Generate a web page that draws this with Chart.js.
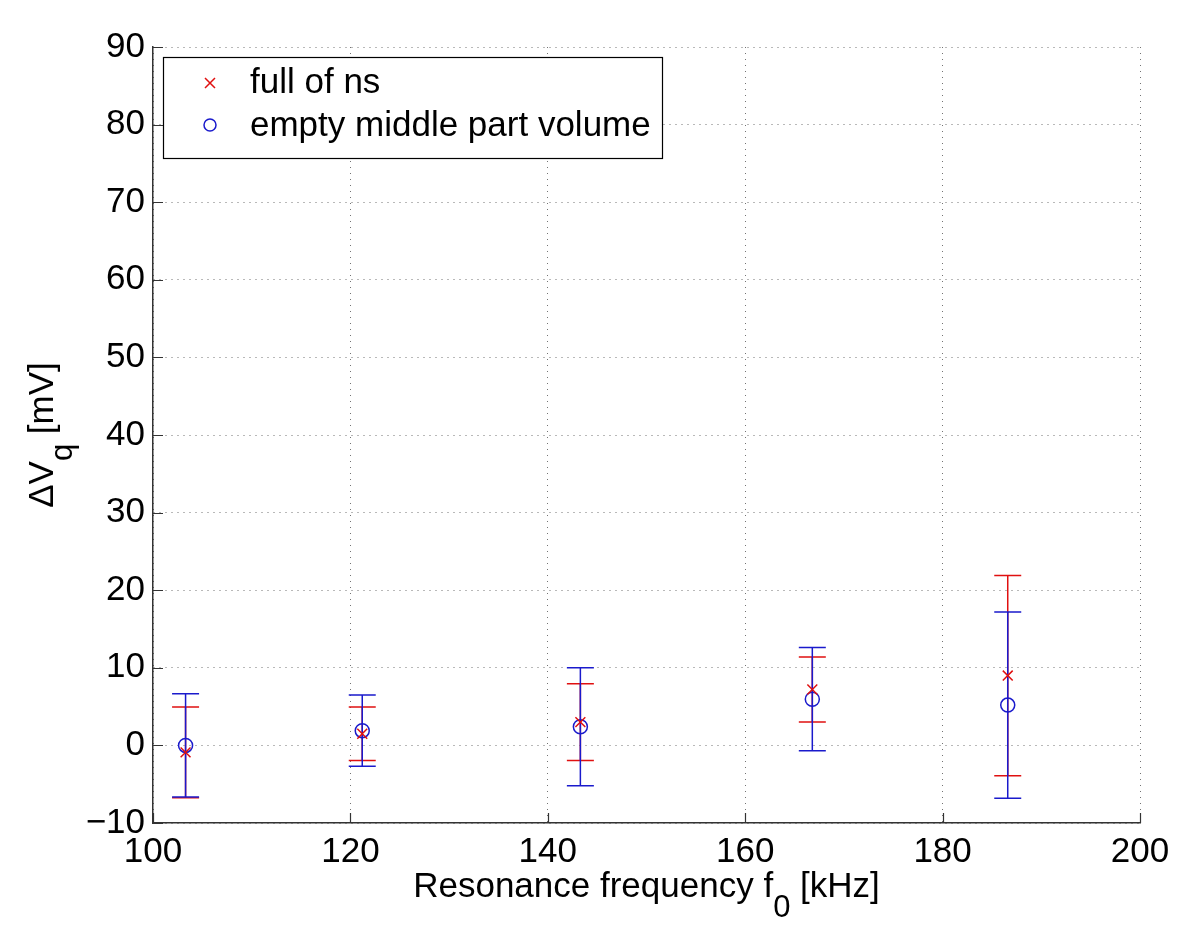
<!DOCTYPE html>
<html>
<head>
<meta charset="utf-8">
<script src="https://cdn.jsdelivr.net/npm/chart.js@4/dist/chart.umd.min.js"></script>
<style>
  html, body { margin: 0; padding: 0; background: #fff; }
  canvas { display: block; }
</style>
</head>
<body>
<canvas id="chart" width="1200" height="951"></canvas>
<script>
// data
const freqs = [103.3, 121.2, 143.3, 166.8, 186.6];
const fullVals = [-0.9, 1.5, 3.0, 7.2, 9.0];
const fullErr = [5.85, 3.45, 4.95, 4.2, 12.9];
const emptyVals = [0.0, 1.9, 2.4, 5.95, 5.2];
const emptyErr = [6.65, 4.6, 7.6, 6.65, 12.0];

const xTicks = [100, 120, 140, 160, 180, 200];
const yTicks = [-10, 0, 10, 20, 30, 40, 50, 60, 70, 80, 90];

const FONT = '"Liberation Sans", Arial, Helvetica, sans-serif';
const RED = "#e01010";
const BLUE = "#1a1acc";

function toPoints(xs, ys) {
    return xs.map((x, i) => ({ x: x, y: ys[i] }));
}

// draws things Chart.js does not have: error bars, inward ticks, sub-scripted titles, legend box
const overlay = {
    id: "overlay",
    beforeDatasetsDraw(chart) {
        const ctx = chart.ctx;
        const xs = chart.scales.x, ys = chart.scales.y;
        // red first, blue over it
        [0, 1].forEach((di) => {
            const ds = chart.data.datasets[di];
            ctx.save();
            ctx.strokeStyle = ds.borderColor;
            ctx.lineWidth = 1.5;
            ds.data.forEach((p, i) => {
                const px = xs.getPixelForValue(p.x);
                const top = ys.getPixelForValue(p.y + ds.errors[i]);
                const bot = ys.getPixelForValue(p.y - ds.errors[i]);
                ctx.beginPath();
                ctx.moveTo(px, top); ctx.lineTo(px, bot);
                ctx.moveTo(px - 13.5, top); ctx.lineTo(px + 13.5, top);
                ctx.moveTo(px - 13.5, bot); ctx.lineTo(px + 13.5, bot);
                ctx.stroke();
            });
            ctx.restore();
        });
    },
    afterDraw(chart) {
        const ctx = chart.ctx;
        const a = chart.chartArea;
        const xs = chart.scales.x, ys = chart.scales.y;
        ctx.save();

        // inward tick marks
        ctx.strokeStyle = "#333";
        ctx.lineWidth = 1.2;
        ctx.beginPath();
        xTicks.forEach((v) => {
            const px = Math.round(xs.getPixelForValue(v)) + 0.5;
            ctx.moveTo(px, a.bottom); ctx.lineTo(px, a.bottom - 10);
        });
        yTicks.forEach((v) => {
            const py = Math.round(ys.getPixelForValue(v)) + 0.5;
            ctx.moveTo(a.left, py); ctx.lineTo(a.left + 10, py);
        });
        ctx.stroke();

        ctx.fillStyle = "#000";
        ctx.textBaseline = "alphabetic";

        // x title: Resonance frequency f_0 [kHz]
        const big = "35px " + FONT, small = "31px " + FONT;
        const xParts = [["Resonance frequency f", big, 0], ["0", small, 20], [" [kHz]", big, 0]];
        drawParts(ctx, xParts, (a.left + a.right) / 2, 897);

        // y title: ΔV_q [mV], rotated
        ctx.save();
        ctx.translate(53, 435);
        ctx.rotate(-Math.PI / 2);
        const yParts = [["\u0394V", big, 0], ["q", small, 19], [" [mV]", big, 0]];
        drawParts(ctx, yParts, 0, 0);
        ctx.restore();

        // legend box
        ctx.fillStyle = "#fff";
        ctx.fillRect(163, 57, 499, 101);
        ctx.strokeStyle = "#000";
        ctx.lineWidth = 1.2;
        ctx.strokeRect(163.5, 57.5, 499, 101);

        const rows = [[83, 93], [125, 136]];
        chart.data.datasets.forEach((ds, i) => {
            const y = rows[i][0];
            ctx.strokeStyle = ds.borderColor;
            ctx.lineWidth = 1.5;
            ctx.beginPath();
            if (ds.pointStyle === "crossRot") {
                ctx.moveTo(205, y - 5); ctx.lineTo(215, y + 5);
                ctx.moveTo(215, y - 5); ctx.lineTo(205, y + 5);
            } else {
                ctx.arc(210, y, 6, 0, Math.PI * 2);
            }
            ctx.stroke();
            ctx.fillStyle = "#000";
            ctx.font = big;
            ctx.textBaseline = "alphabetic";
            ctx.textAlign = "left";
            ctx.fillText(ds.label, 250, rows[i][1]);
        });
        ctx.restore();
    }
};

function drawParts(ctx, parts, cx, baseline) {
    let total = 0;
    parts.forEach((p) => { ctx.font = p[1]; total += ctx.measureText(p[0]).width; });
    let x = cx - total / 2;
    ctx.textAlign = "left";
    parts.forEach((p) => {
        ctx.font = p[1];
        ctx.fillText(p[0], x, baseline + p[2]);
        x += ctx.measureText(p[0]).width;
    });
}

const fmt = (v) => (v < 0 ? "\u2212" + Math.abs(v) : String(v));

new Chart(document.getElementById("chart"), {
    type: "scatter",
    data: {
        datasets: [
            {
                label: "full of ns",
                data: toPoints(freqs, fullVals),
                errors: fullErr,
                borderColor: RED,
                backgroundColor: RED,
                pointStyle: "crossRot",
                pointRadius: 7,
                pointBorderWidth: 1.5,
                showLine: false,
            },
            {
                label: "empty middle part volume",
                data: toPoints(freqs, emptyVals),
                errors: emptyErr,
                borderColor: BLUE,
                backgroundColor: "rgba(0,0,0,0)",
                pointStyle: "circle",
                pointRadius: 7,
                pointBorderWidth: 1.5,
                showLine: false,
            },
        ],
    },
    options: {
        responsive: false,
        animation: false,
        devicePixelRatio: 1,
        layout: { padding: { top: 47, right: 60, left: 0, bottom: 0 } },
        plugins: {
            legend: { display: false },
            tooltip: { enabled: false },
        },
        scales: {
            x: {
                type: "linear",
                min: 100,
                max: 200,
                afterBuildTicks: (s) => { s.ticks = xTicks.map((v) => ({ value: v })); },
                afterFit: (s) => { s.height = 128; },
                ticks: {
                    padding: 8,
                    color: "#000",
                    font: { family: FONT, size: 35 },
                    callback: fmt,
                    maxRotation: 0,
                },
                grid: { color: "rgba(0,0,0,0.55)", lineWidth: 1, drawTicks: false },
                border: { display: true, color: "#333", width: 1.5, dash: [1, 5] },
            },
            y: {
                type: "linear",
                min: -10,
                max: 90,
                afterBuildTicks: (s) => { s.ticks = yTicks.map((v) => ({ value: v })); },
                afterFit: (s) => { s.width = 153; },
                ticks: {
                    padding: 8,
                    color: "#000",
                    font: { family: FONT, size: 35 },
                    callback: fmt,
                },
                grid: { color: "rgba(0,0,0,0.55)", lineWidth: 1, drawTicks: false },
                border: { display: true, color: "#333", width: 1.5, dash: [1, 5] },
            },
        },
    },
    plugins: [overlay],
});
</script>
</body>
</html>
